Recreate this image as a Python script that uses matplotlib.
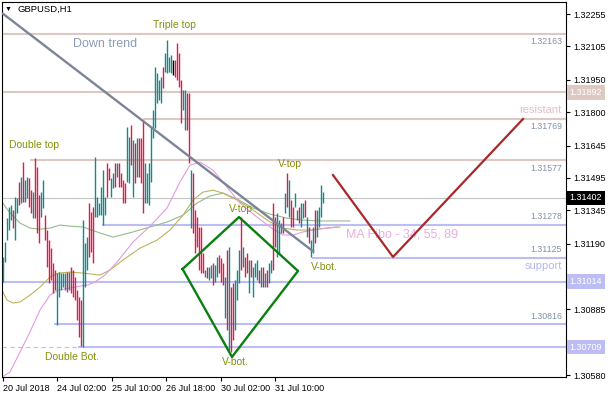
import matplotlib
matplotlib.use("Agg")
import matplotlib.pyplot as plt
from matplotlib.transforms import blended_transform_factory

plt.rcParams["font.family"] = ["Liberation Sans", "DejaVu Sans"]

# H1 bars, oldest first (u = up, d = down, k = doji)
highs = [
    1.31128, 1.31197, 1.31308, 1.31360, 1.31369, 1.31346, 1.31406, 1.31401, 1.31476, 1.31499,
    1.31568, 1.31485, 1.31499, 1.31494, 1.31438, 1.31429, 1.31587, 1.31545, 1.31415, 1.31429,
    1.31485, 1.31322, 1.31253, 1.31206, 1.31169, 1.31100, 1.31067, 1.31053, 1.31058, 1.31053,
    1.31053, 1.31053, 1.31058, 1.31058, 1.31081, 1.31067, 1.31035, 1.30974, 1.30942, 1.30928,
    1.31299, 1.31192, 1.31220, 1.31378, 1.31336, 1.31360, 1.31592, 1.31406, 1.31378, 1.31452,
    1.31531, 1.31406, 1.31564, 1.31540, 1.31494, 1.31517, 1.31564, 1.31564, 1.31564, 1.31517,
    1.31485, 1.31471, 1.31731, 1.31684, 1.31740, 1.31670, 1.31656, 1.31680, 1.31680, 1.31680,
    1.31763, 1.31564, 1.31517, 1.31564, 1.31731, 1.31810, 1.32009, 1.31981, 1.31949, 1.31963,
    1.32009, 1.32074, 1.32134, 1.32056, 1.32065, 1.32042, 1.32042, 1.32120, 1.32074, 1.31949,
    1.31902, 1.31902, 1.31888, 1.31888, 1.31531, 1.31517, 1.31346, 1.31313, 1.31267, 1.31267,
    1.31146, 1.31067, 1.31081, 1.31081, 1.31090, 1.31100, 1.31090, 1.31128, 1.31137, 1.31123,
    1.31100, 1.31035, 1.31160, 1.31174, 1.30988, 1.31007, 1.31021, 1.31067, 1.31160, 1.31313,
    1.31174, 1.31128, 1.31146, 1.31114, 1.31114, 1.31081, 1.31100, 1.31114, 1.31067, 1.31081,
    1.31081, 1.31053, 1.31067, 1.31100, 1.31114, 1.31378, 1.31313, 1.31332, 1.31299, 1.31285,
    1.31313, 1.31424, 1.31517, 1.31485, 1.31392, 1.31360, 1.31424, 1.31346, 1.31360, 1.31378,
    1.31378, 1.31392, 1.31313, 1.31267, 1.31206, 1.31267, 1.31346, 1.31346, 1.31360, 1.31462,
    1.31429,
]
lows = [
    1.31012, 1.31104, 1.31206, 1.31253, 1.31299, 1.31262, 1.31206, 1.31332, 1.31369, 1.31378,
    1.31383, 1.31383, 1.31401, 1.31360, 1.31332, 1.31308, 1.31308, 1.31239, 1.31192, 1.31313,
    1.31355, 1.31206, 1.31081, 1.31007, 1.31021, 1.30960, 1.30974, 1.30812, 1.30942, 1.30974,
    1.30988, 1.30974, 1.30965, 1.30974, 1.30960, 1.30942, 1.30928, 1.30835, 1.30756, 1.30715,
    1.30710, 1.30988, 1.31067, 1.31128, 1.31151, 1.31100, 1.31313, 1.31313, 1.31322, 1.31322,
    1.31276, 1.31322, 1.31406, 1.31485, 1.31406, 1.31448, 1.31452, 1.31499, 1.31452, 1.31452,
    1.31378, 1.31378, 1.31476, 1.31471, 1.31554, 1.31406, 1.31471, 1.31499, 1.31499, 1.31471,
    1.31332, 1.31378, 1.31378, 1.31369, 1.31476, 1.31680, 1.31726, 1.31842, 1.31856, 1.31842,
    1.31912, 1.31986, 1.31981, 1.31986, 1.31981, 1.31972, 1.31963, 1.31949, 1.31916, 1.31749,
    1.31810, 1.31717, 1.31717, 1.31564, 1.31262, 1.31239, 1.31146, 1.31174, 1.31067, 1.31053,
    1.31053, 1.31035, 1.31030, 1.31021, 1.31030, 1.30998, 1.31012, 1.31035, 1.31053, 1.31012,
    1.30998, 1.30844, 1.30789, 1.30696, 1.30687, 1.30742, 1.30789, 1.30928, 1.31007, 1.31067,
    1.31081, 1.31035, 1.31053, 1.30960, 1.31035, 1.30942, 1.31035, 1.31021, 1.31007, 1.30988,
    1.30988, 1.30988, 1.30988, 1.31007, 1.31053, 1.31067, 1.31174, 1.31128, 1.31146, 1.31239,
    1.31239, 1.31332, 1.31360, 1.31313, 1.31267, 1.31267, 1.31360, 1.31299, 1.31285, 1.31267,
    1.31308, 1.31313, 1.31220, 1.31192, 1.31128, 1.31146, 1.31192, 1.31220, 1.31267, 1.31313,
    1.31378,
]
bar_dir = (
    "uuuuudu" "udud" "uuddudd" "duudd" "dddd" "uuuuudu" "dddddd"
    "uuudd" "duuuuuu" "ddu" "udu" "dddd" "uudud" "uddd" "uuu" "uuuuuu" "duuuu" "kdddd"
    "uud" "dudd" "ddd" "duduu" "duudd" "dudu" "dduu" "u" "dudd" "uduuu" "dudu" "du"
    "udd" "uuudududd" "uuduu" "dudu" "uduuu"
)

# MA Fibo 34 / 55 / 89 (bar index, price)
ma34_x = [-0.5, 3.5, 8.5, 13.5, 18.5, 23.5, 27.5, 33.5, 38.5, 42.5, 46, 51, 57, 65, 73.5,
          82, 88.5, 93.5, 98.5, 105, 112, 118.5, 127, 133.5, 140, 145, 150, 155, 162, 167]
ma34_y = [1.30571, 1.30594, 1.30687, 1.30780, 1.30882, 1.30951, 1.30974, 1.30984, 1.30993,
          1.30998, 1.31012, 1.31044, 1.31104, 1.31197, 1.31271, 1.31355, 1.31476, 1.31554,
          1.31568, 1.31531, 1.31452, 1.31378, 1.31313, 1.31267, 1.31230, 1.31230, 1.31244,
          1.31253, 1.31262, 1.31267]
ma55_x = [-0.5, 2, 5, 8.5, 13.5, 18.5, 23.5, 27.5, 33.5, 40, 48.5, 53.5, 60, 68.5, 77, 83.5,
          90, 95, 100, 105, 110, 117, 125, 133.5, 140, 147, 153.5, 162, 168.5]
ma55_y = [1.30974, 1.30928, 1.30914, 1.30919, 1.30951, 1.30988, 1.31035, 1.31053, 1.31058,
          1.31053, 1.31044, 1.31067, 1.31114, 1.31169, 1.31206, 1.31253, 1.31322, 1.31392,
          1.31429, 1.31438, 1.31424, 1.31392, 1.31346, 1.31290, 1.31262, 1.31253, 1.31253,
          1.31262, 1.31267]
ma89_x = [-0.5, 3.5, 8.5, 13.5, 18.5, 23.5, 28.5, 33.5, 40, 48.5, 55, 65, 73.5, 82, 90, 97,
          103.5, 110, 117, 125, 133.5, 142, 150, 158.5, 173.5]
ma89_y = [1.31383, 1.31332, 1.31285, 1.31262, 1.31257, 1.31262, 1.31276, 1.31271, 1.31267,
          1.31239, 1.31220, 1.31244, 1.31267, 1.31290, 1.31322, 1.31378, 1.31411, 1.31424,
          1.31397, 1.31355, 1.31327, 1.31308, 1.31299, 1.31295, 1.31295]

# horizontal levels: price and first bar
res_levels = [1.32163, 1.31892, 1.31769, 1.31577]
res_start = [-0.75, -0.75, 70, 13.5]
sup_levels = [1.31278, 1.31125, 1.31014, 1.30816, 1.30709]
sup_start = [49.5, 154.5, -0.75, 25.5, 37.5]
last_price = 1.31402

trend_x = [-0.5, 155.5]
trend_y = [1.32260, 1.31151]
zigzag_x = [165, 195, 260]
zigzag_y = [1.31508, 1.31128, 1.31768]
diamond_x = [89.8, 118, 147.5, 114.5, 89.8]
diamond_y = [1.31072, 1.31313, 1.31063, 1.30664, 1.31072]

yticks = [1.32255, 1.32105, 1.31950, 1.31800, 1.31645, 1.31495, 1.31345, 1.31190,
          1.31040, 1.30885, 1.30735, 1.30580]
hidden_ticks = [1.31040, 1.30735]  # covered by the level boxes
xtick_pos = [0, 27, 54.4, 81.5, 108.9, 136.2]
xtick_labels = ["20 Jul 2018", "24 Jul 02:00", "25 Jul 10:00", "26 Jul 18:00",
                "30 Jul 02:00", "31 Jul 10:00"]

UP, DOWN = "#128a8a", "#e3194b"
ROSY, LAV = "#dec8c2", "#bdbdf5"
NOTE = "#85900a"

fig = plt.figure(figsize=(6.1, 4.0), dpi=100)
ax = fig.add_axes([1.5 / 610, 23 / 400, 564.5 / 610, 375 / 400])
xmax = 281.5
ax.set_xlim(-0.75, xmax)
ax.set_ylim(1.30571, 1.32311)

# levels
for p, s in zip(res_levels, res_start):
    ax.hlines(p, s, xmax, color=ROSY, lw=1.5, zorder=1)
for p, s in zip(sup_levels, sup_start):
    ax.hlines(p, s, xmax, color=LAV, lw=1.5, zorder=1)
ax.hlines(sup_levels[-1], -0.75, sup_start[-1], color=LAV, lw=0.8, ls=(0, (4, 3)), zorder=1)
ax.hlines(last_price, -0.75, xmax, color="#c4c4c4", lw=0.8, zorder=1)

# moving averages
ax.plot(ma89_x, ma89_y, color="#93bc8c", lw=0.8, zorder=2)
ax.plot(ma55_x, ma55_y, color="#bdb45c", lw=0.8, zorder=2)
ax.plot(ma34_x, ma34_y, color="#e29be0", lw=0.8, zorder=2)

# bars
idx = list(range(len(highs)))
cols = [UP if c == "u" else DOWN if c == "d" else "black" for c in bar_dir]
ax.vlines(idx, lows, highs, colors=cols, lw=1.0, zorder=3)

# drawings
ax.plot(trend_x, trend_y, color="#7b8597", lw=1.7, zorder=4, solid_capstyle="butt")
ax.plot(zigzag_x, zigzag_y, color="#a8282b", lw=1.6, zorder=4)
ax.plot(diamond_x, diamond_y, color="#0a8010", lw=1.7, zorder=4)

# level value labels
lbl = dict(fontsize=6.3, color="#8290a6", ha="right", textcoords="offset points")
for p in [1.32163, 1.31769, 1.31577]:
    ax.annotate(f"{p:.5f}", (279.5, p), xytext=(0, -2.5), va="top", **lbl)
for p in [1.31278, 1.31125, 1.30816]:
    ax.annotate(f"{p:.5f}", (279.5, p), xytext=(0, 2.5), va="bottom", **lbl)
ax.annotate("resistant", (279.5, 1.31769), xytext=(0, 2.5), textcoords="offset points",
            ha="right", va="bottom", fontsize=8, color="#e6bcc5")
ax.annotate("support", (279.5, 1.31125), xytext=(0, -2.5), textcoords="offset points",
            ha="right", va="top", fontsize=8, color="#b6b6ee")

# chart notes
ax.text(85.5, 1.32204, "Triple top", fontsize=7.5, color=NOTE, ha="center", va="center")
ax.text(35, 1.32116, "Down trend", fontsize=9, color="#8d9bb6", ha="left", va="center")
ax.text(3, 1.31647, "Double top", fontsize=7.5, color=NOTE, ha="left", va="center")
ax.text(21, 1.30664, "Double Bot.", fontsize=7.5, color=NOTE, ha="left", va="center")
ax.text(137.5, 1.31559, "V-top", fontsize=7.5, color=NOTE, ha="left", va="center")
ax.text(113, 1.31350, "V-top", fontsize=7.5, color=NOTE, ha="left", va="center")
ax.text(154, 1.31081, "V-bot.", fontsize=7.5, color=NOTE, ha="left", va="center")
ax.text(109.5, 1.30640, "V-bot.", fontsize=7.5, color=NOTE, ha="left", va="center")
ax.text(171.5, 1.31234, "MA Fibo - 34, 55, 89", fontsize=9, color="#e8aee0",
        ha="left", va="center")

# axes styling
for sp in ax.spines.values():
    sp.set_color("black")
    sp.set_linewidth(0.8)
ax.yaxis.tick_right()
ax.set_yticks(yticks)
ax.set_yticklabels(["" if v in hidden_ticks else f"{v:.5f}" for v in yticks])
ax.tick_params(axis="y", length=3, width=0.8, pad=2, labelsize=6.5, colors="black")
ax.set_xticks(xtick_pos)
ax.set_xticklabels(xtick_labels)
for t in ax.get_xticklabels():
    t.set_ha("left")
ax.tick_params(axis="x", length=3, width=0.8, pad=2, labelsize=6.5)

# price boxes on the axis
tr = blended_transform_factory(ax.transAxes, ax.transData)
boxes = [(1.31892, ROSY, "white"), (1.31014, LAV, "white"), (1.30709, LAV, "white"),
         (last_price, "black", "white")]
for p, fc, tc in boxes:
    ax.text(1.006, p, f"{p:.5f}", transform=tr, fontsize=6.5, color=tc, ha="left",
            va="center", clip_on=False, zorder=6,
            bbox=dict(boxstyle="square,pad=0.3", fc=fc, ec="none"))

# symbol caption
fig.text(5 / 610, 1 - 9 / 400, "\u25bc", fontsize=5, ha="left", va="center")
fig.text(17 / 610, 1 - 9 / 400, "GBPUSD,H1", fontsize=6.8, ha="left", va="center")

fig.savefig("out.png", dpi=100)
